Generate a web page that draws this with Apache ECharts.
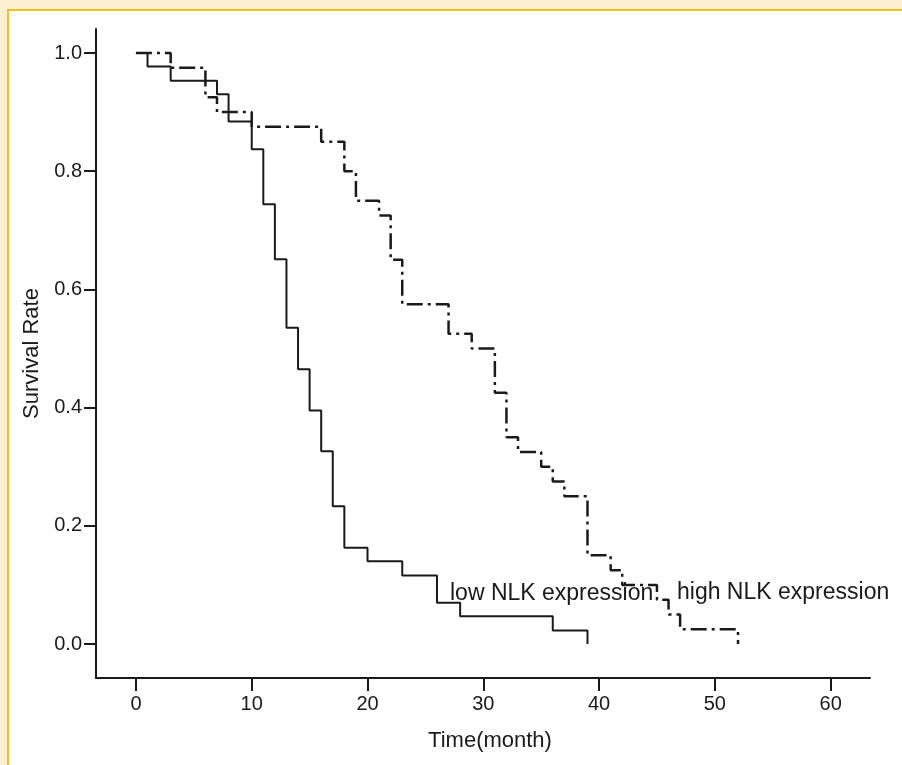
<!DOCTYPE html>
<html>
<head>
<meta charset="utf-8">
<script src="https://cdn.jsdelivr.net/npm/echarts@6/dist/echarts.min.js"></script>
<style>
html,body{margin:0;padding:0;background:#fcefd2;}
#chart{width:902px;height:765px;}
</style>
</head>
<body>
<div id="chart"></div>
<script>
// Kaplan-Meier steps: [time (month), survival rate after that time]
const lowTimes  = [0, 1, 3, 7, 8, 10, 11, 12, 13, 14, 15, 16, 17, 18, 20, 23, 26, 28, 36, 39];
const lowRates  = [1.0, 0.977, 0.953, 0.930, 0.884, 0.837, 0.744, 0.651, 0.535, 0.465, 0.395, 0.326, 0.233, 0.163, 0.140, 0.116, 0.070, 0.047, 0.023, 0.0];
const highTimes = [0, 3, 6, 7, 10, 16, 18, 19, 21, 22, 23, 27, 29, 31, 32, 33, 35, 36, 37, 39, 41, 42, 45, 46, 47, 52];
const highRates = [1.0, 0.975, 0.925, 0.900, 0.875, 0.850, 0.800, 0.750, 0.725, 0.650, 0.575, 0.525, 0.500, 0.425, 0.350, 0.325, 0.300, 0.275, 0.250, 0.150, 0.125, 0.100, 0.075, 0.050, 0.025, 0.0];
const xTicks = [0, 10, 20, 30, 40, 50, 60];
const yTicks = [0.0, 0.2, 0.4, 0.6, 0.8, 1.0];
const xTitle = 'Time(month)';
const yTitle = 'Survival Rate';
const lowLabel = 'low NLK expression';
const highLabel = 'high NLK expression';

const zip = (a, b) => a.map((v, i) => [v, b[i]]);
const font = 'Liberation Sans, Arial, Helvetica, sans-serif';
const ink = '#1a1a1a';

const chart = echarts.init(document.getElementById('chart'), null, {renderer: 'canvas'});
chart.setOption({
  animation: false,
  backgroundColor: 'transparent',
  graphic: [
    {type: 'rect', z: -100, silent: true, shape: {x: 0, y: 0, width: 902, height: 765}, style: {fill: '#fcefd2'}},
    {type: 'rect', z: -99, silent: true, shape: {x: 8, y: 10, width: 900, height: 760}, style: {fill: '#ffffff', stroke: '#f2c21a', lineWidth: 2}},
    {type: 'text', z: 10, left: 450, top: 582, style: {text: lowLabel, font: '23px ' + font, fill: ink}},
    {type: 'text', z: 10, left: 677, top: 581, style: {text: highLabel, font: '23px ' + font, fill: ink}}
  ],
  grid: {left: 96, right: 32, top: 29, bottom: 87, containLabel: false},
  xAxis: {
    type: 'value', min: -3.45, max: 63.4,
    name: xTitle, nameLocation: 'middle', nameGap: 52,
    nameTextStyle: {fontSize: 22, fontFamily: font, color: ink, padding: [0, 0, 0, 14]},
    splitLine: {show: false},
    axisLine: {show: true, onZero: false, lineStyle: {color: ink, width: 2}},
    axisTick: {show: true, length: 13, customValues: xTicks, lineStyle: {color: ink, width: 2}},
    axisLabel: {customValues: xTicks, margin: 16, fontSize: 20, fontFamily: font, color: ink}
  },
  yAxis: {
    type: 'value', min: -0.0575, max: 1.0406,
    name: yTitle, nameLocation: 'middle', nameGap: 47, nameRotate: 90,
    nameTextStyle: {fontSize: 22, fontFamily: font, color: ink},
    splitLine: {show: false},
    axisLine: {show: true, onZero: false, lineStyle: {color: ink, width: 2}},
    axisTick: {show: true, length: 12, customValues: yTicks, lineStyle: {color: ink, width: 2}},
    axisLabel: {customValues: yTicks, margin: 14, fontSize: 20, fontFamily: font, color: ink,
      formatter: v => v.toFixed(1)}
  },
  series: [
    {
      name: lowLabel, type: 'line', step: 'end', showSymbol: false, symbol: 'none',
      data: zip(lowTimes, lowRates),
      lineStyle: {color: ink, width: 2}
    },
    {
      name: highLabel, type: 'line', step: 'end', showSymbol: false, symbol: 'none',
      data: zip(highTimes, highRates),
      lineStyle: {color: ink, width: 2.5, type: [16, 5, 3, 5]}
    }
  ]
});
</script>
</body>
</html>
